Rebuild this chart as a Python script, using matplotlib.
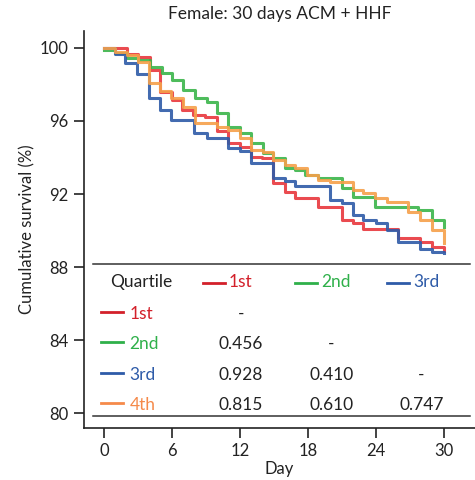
import matplotlib.pyplot as plt
import numpy as np

plt.rcParams['font.family'] = ['Lato', 'DejaVu Sans']

# ----------------------------- DATOS -----------------------------
q1_day = [0, 2.0, 3.03, 4.06, 4.94, 5.97, 6.86, 7.86, 8.91, 9.95, 10.94, 12.0, 12.97, 13.92,
          14.94, 15.98, 16.86, 18.9, 20.98, 21.95, 22.89, 25.98, 27.89, 28.92, 30]
q1_surv = [100, 99.67, 99.52, 98.79, 97.6, 97.15, 96.6, 96.33, 96.2, 95.45, 94.8, 94.6, 94.04, 93.97,
           92.59, 92.13, 91.76, 91.3, 90.58, 90.39, 90.08, 89.57, 89.39, 89.08, 88.9]

q2_day = [0, 0.97, 2.0, 3.03, 4.06, 5.09, 5.97, 7.0, 8.03, 9.06, 9.95, 10.97, 12.0, 12.97, 14.06,
          14.94, 15.98, 16.86, 17.74, 18.91, 20.98, 21.95, 23.92, 27.74, 28.92, 30]
q2_surv = [99.9, 99.71, 99.44, 99.34, 98.98, 98.61, 98.25, 97.7, 97.24, 97.06, 96.42, 95.67, 95.33,
           94.78, 94.23, 93.96, 93.41, 93.32, 93.04, 92.86, 92.31, 91.85, 91.3, 91.12, 90.58, 90.21]

q3_day = [0, 0.94, 1.9, 2.94, 3.95, 4.97, 5.94, 7.98, 9.06, 10.97, 12.0, 12.97, 14.94, 15.98, 16.86,
          19.95, 20.98, 21.95, 22.89, 24.0, 25.0, 25.98, 27.89, 28.92, 30]
q3_surv = [100, 99.67, 99.18, 98.58, 97.26, 96.6, 96.05, 95.35, 95.08, 94.54, 94.37, 93.68, 92.89,
           92.71, 92.44, 91.67, 91.49, 90.85, 90.58, 90.39, 90.03, 89.39, 88.97, 88.84, 88.75]

q4_day = [0, 0.97, 2.0, 3.03, 3.95, 4.97, 5.94, 6.97, 8.0, 9.95, 10.94, 12.0, 12.97, 14.06, 14.94,
          15.98, 16.86, 17.89, 18.91, 19.95, 22.0, 22.89, 23.92, 24.95, 26.86, 27.89, 28.92, 30]
q4_surv = [100, 99.8, 99.62, 99.25, 98.07, 97.66, 97.24, 96.77, 95.87, 95.69, 95.51, 95.05, 94.41,
           94.32, 93.86, 93.59, 93.41, 93.04, 92.77, 92.67, 92.22, 92.04, 91.76, 91.58, 91.03, 90.58,
           90.03, 89.3]

quartiles = ['1st', '2nd', '3rd', '4th']
colores = ['#e8373d', '#3bb54a', '#2e5ba8', '#f5a04a']
colores_txt = ['#d3202a', '#2fb04a', '#2e5ba8', '#f58a4a']

# p-valores: fila i, columna j (None = vacio, '-' = diagonal)
pvalores = [['-', None, None],
            ['0.456', '-', None],
            ['0.928', '0.410', '-'],
            ['0.815', '0.610', '0.747']]

# ----------------------------------- GRAFICO ----------------------------------------
fig = plt.figure(figsize=(4.75, 4.8), dpi=100)
ax = fig.add_axes([0.1768, 0.1083, 0.8232, 0.8271])

series = [(q1_day, q1_surv), (q2_day, q2_surv), (q3_day, q3_surv), (q4_day, q4_surv)]
# orden de dibujo parecido al original
for i in [3, 2, 0, 1]:
    d, s = series[i]
    ax.step(d, s, where='post', color=colores[i], linewidth=2.2, alpha=0.9, zorder=3 + i)

ax.set_xlim(-1.76, 32.74)
ax.set_ylim(79.18, 100.93)
ax.set_xticks([0, 6, 12, 18, 24, 30])
ax.set_yticks([80, 84, 88, 92, 96, 100])
ax.spines['top'].set_visible(False)
ax.spines['right'].set_visible(False)
for sp in ['left', 'bottom']:
    ax.spines[sp].set_linewidth(1.2)
    ax.spines[sp].set_color('#222222')
ax.tick_params(direction='out', length=7, width=1.2, labelsize=12, colors='#222222', pad=4)

ax.set_xlabel('Day', fontsize=12, labelpad=1, color='#222222')
ax.set_ylabel('Cumulative survival (%)', fontsize=12, labelpad=3, color='#222222')
ax.set_title('Female: 30 days ACM + HHF', fontsize=12.5, pad=9, color='#222222')

# ------------------------------- TABLA DE P-VALORES ---------------------------------
ax.patch.set_alpha(0)
tr = ax.transAxes
ax.fill_between([0.023, 0.987], 0.030, 0.413, transform=tr, color='white', zorder=8)
ax.plot([0.023, 0.987], [0.413, 0.413], transform=tr, color='#333333', lw=1.1, zorder=9)
ax.plot([0.023, 0.987], [0.030, 0.030], transform=tr, color='#333333', lw=1.1, zorder=9)

fs = 12.5
y_head = 0.369
ax.text(0.066, y_head, 'Quartile', transform=tr, fontsize=fs, va='center', color='#222222', zorder=10)
col_line_x = [0.305, 0.540, 0.775]
for j in range(3):
    x0 = col_line_x[j]
    ax.plot([x0, x0 + 0.056], [y_head - 0.004, y_head - 0.004], transform=tr,
            color=colores_txt[j], lw=2, zorder=10)
    ax.text(x0 + 0.066, y_head, quartiles[j], transform=tr, fontsize=fs, va='center',
            color=colores_txt[j], zorder=10)

fila_y = [0.287, 0.212, 0.134, 0.058]
col_val_x = [0.402, 0.633, 0.863]
for i in range(4):
    y0 = fila_y[i]
    ax.plot([0.043, 0.100], [y0 + 0.004, y0 + 0.004], transform=tr, color=colores_txt[i], lw=2, zorder=10)
    ax.text(0.116, y0, quartiles[i], transform=tr, fontsize=fs, va='center',
            color=colores_txt[i], zorder=10)
    for j in range(3):
        v = pvalores[i][j]
        if v is not None:
            ax.text(col_val_x[j], y0, v, transform=tr, fontsize=fs, va='center', ha='center',
                    color='#222222', zorder=10)

fig.savefig('out.png', dpi=100)
